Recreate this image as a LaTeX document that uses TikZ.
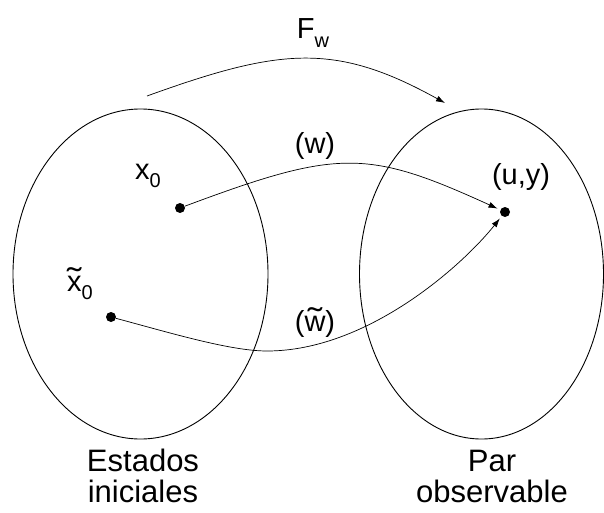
\documentclass[tikz,border=0pt]{standalone}
\usepackage{fontspec}
\setmainfont{Liberation Sans}
\usetikzlibrary{arrows.meta,shapes.geometric}
\newcommand{\lowsub}[1]{\raisebox{-0.28em}{\fontsize{20}{20}\selectfont #1}}
\newcommand{\widetil}[1]{\ooalign{#1\cr\hidewidth\raisebox{0.04em}{\scalebox{1.5}[1.1]{\char"02DC}}\hidewidth\cr}}
\begin{document}
\begin{tikzpicture}[x=1pt,y=-1pt,
 setshape/.style={draw,ellipse,line width=0.9pt,minimum height=330pt,inner sep=0pt},
 dotpt/.style={circle,fill,inner sep=0pt,minimum size=10pt},
 lab/.style={font=\fontsize{29}{29}\selectfont,inner sep=0pt},
 captxt/.style={font=\fontsize{31}{31}\selectfont,align=center,inner sep=0pt},
 conn/.style={line width=0.7pt,-{Latex[length=9pt,width=6pt]}}]
\useasboundingbox (0,0) rectangle (604,513);
\node[setshape,minimum width=255pt] (left) at (140.5,274) {};
\node[setshape,minimum width=244pt] (right) at (481.5,274) {};
\node[dotpt] (x0) at (180,208) {};
\node[dotpt] (xt) at (111,317) {};
\node[dotpt] (uy) at (505,212) {};
\node[lab] (lx0) at (148,176) {x\lowsub{0}};
\node[lab] (lxt) at (80,288) {\widetil{x}\lowsub{0}};
\node[lab] (lw) at (315,146) {(w)};
\node[lab] (lwt) at (315,324) {(\widetil{w})};
\node[lab] (luy) at (521,177) {(u,y)};
\node[lab] (lF) at (313,33) {F\lowsub{w}};
\node[captxt] (cl) at (143,476) {Estados\\iniciales};
\node[captxt] (cr) at (492,476) {Par\\observable};
\coordinate (fs) at (147,96);
\coordinate (fe) at (445,103);
\coordinate (wlow) at (267,351);
\draw[conn] (fs) .. controls (280,48) and (335,42) .. (fe);
\draw[conn,shorten >=3pt] (x0) .. controls (338,149) and (367,149) .. (uy);
\draw[conn,shorten >=3pt] (xt) .. controls (169,332.5) and (230,351) .. (wlow) .. controls (367,351) and (462,266) .. (uy);
\end{tikzpicture}
\end{document}
